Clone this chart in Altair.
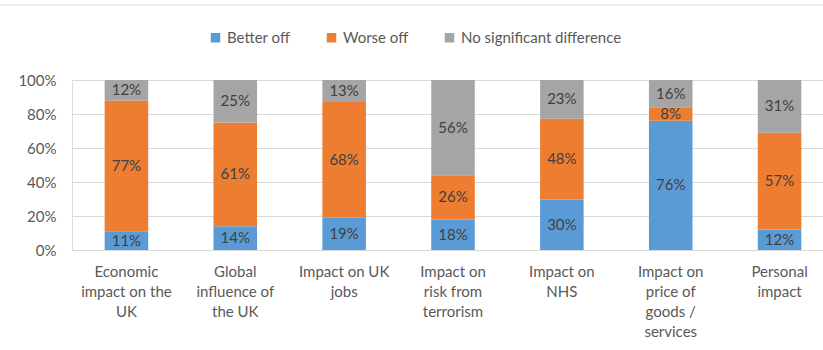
import altair as alt
import pandas as pd

categories = [
    "Economic|impact on the|UK",
    "Global|influence of|the UK",
    "Impact on UK|jobs",
    "Impact on|risk from|terrorism",
    "Impact on|NHS",
    "Impact on|price of|goods /|services",
    "Personal|impact",
]
series = ["Better off", "Worse off", "No significant difference"]
better_off = [11, 14, 19, 18, 30, 76, 12]
worse_off = [77, 61, 68, 26, 48, 8, 57]
no_diff = [12, 25, 13, 56, 23, 16, 31]
colors = ["#5B9BD5", "#ED7D31", "#A5A5A5"]
y_ticks = [0, 0.2, 0.4, 0.6, 0.8, 1.0]

rows = []
for i, c in enumerate(categories):
    for k, (s, vals) in enumerate(zip(series, [better_off, worse_off, no_diff])):
        rows.append({"cat": c, "series": s, "value": vals[i], "order": k})
df = pd.DataFrame(rows)

FONT = "Lato"
FS = 15
base = alt.Chart(df).transform_stack(
    stack="value", groupby=["cat"], as_=["y0", "y1"], offset="normalize",
    sort=[alt.SortField("order", order="ascending")]
).transform_calculate(mid="(datum.y0 + datum.y1) / 2")

xscale = alt.Scale(paddingInner=0.6, paddingOuter=0.3, range=[0, 762])
yscale = alt.Scale(domain=[0, 1])
yaxis = alt.Axis(format=".0%", values=y_ticks,
                 labelFontSize=FS, labelColor="#595959", labelFont=FONT,
                 labelPadding=16, ticks=False, domain=False,
                 labelOverlap=False, gridColor="#D9D9D9")
x = alt.X("cat:N", sort=categories, title=None, scale=xscale,
          axis=alt.Axis(labelExpr="split(datum.label, '|')", labelAngle=0,
                        labelFontSize=FS, labelColor="#595959", labelFont=FONT,
                        labelLineHeight=20, labelPadding=14, ticks=False,
                        domain=False, labelBaseline="top"))

bars = base.mark_bar().encode(
    x=x,
    y=alt.Y("y0:Q", scale=yscale, title=None, axis=yaxis),
    y2="y1:Q",
    color=alt.Color("series:N", sort=series,
                    scale=alt.Scale(domain=series, range=colors),
                    legend=alt.Legend(title=None, orient="none", direction="horizontal",
                                      legendX=136, legendY=-50,
                                      symbolType="square", symbolSize=90,
                                      labelFontSize=FS, labelFont=FONT,
                                      labelColor="#595959", columnPadding=33,
                                      labelLimit=300, symbolStrokeWidth=0)),
)

labels = base.mark_text(fontSize=FS, font=FONT, color="#404040").encode(
    x=alt.X("cat:N", sort=categories, scale=xscale, title=None),
    y=alt.Y("mid:Q", scale=yscale, title=None, axis=yaxis),
).transform_calculate(lbl="datum.value + '%'").encode(text="lbl:N")

top_rule = alt.Chart(pd.DataFrame({"a": [0]})).mark_rule(color="#D9D9D9", strokeWidth=1).encode(
    x=alt.value(-72), x2=alt.value(760), y=alt.value(-75)
)

chart = alt.layer(bars, labels, top_rule).properties(
    width=751, height=170,
    padding={"left": 72, "top": 80, "right": 0, "bottom": 100},
    autosize=alt.AutoSizeParams(type="none"),
).configure_view(stroke=None).configure(background="white")

chart.save("out.html", embed_options={"renderer": "svg", "actions": False})
